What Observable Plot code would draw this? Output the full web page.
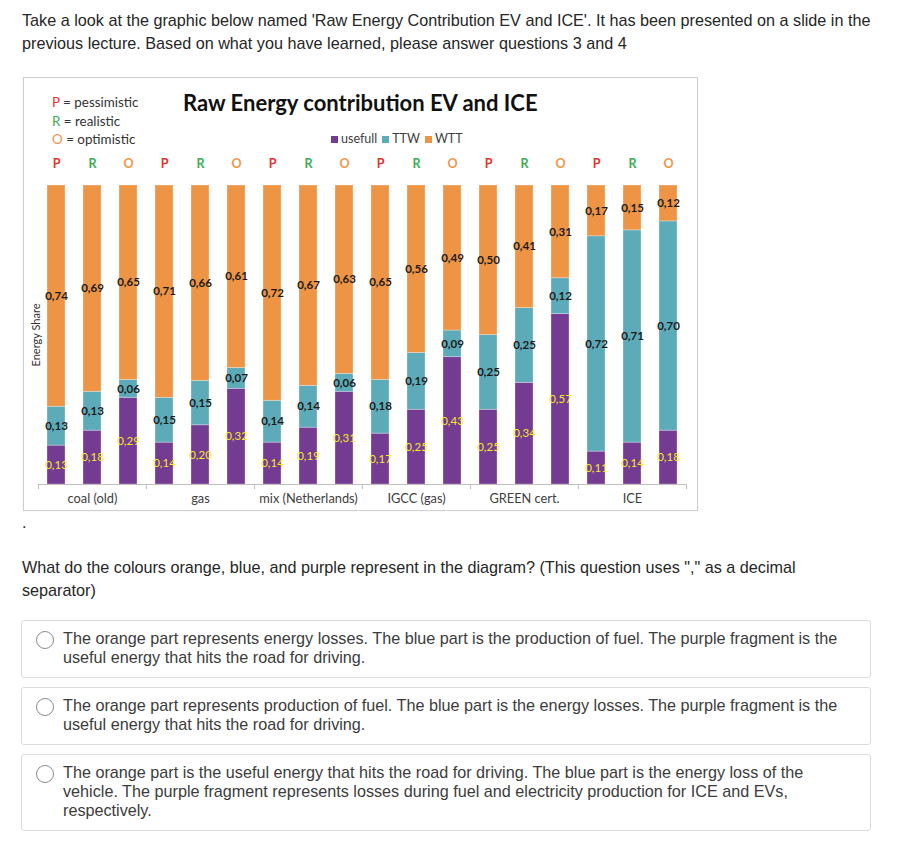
<!DOCTYPE html>
<html>
<head>
<meta charset="utf-8">
<script src="https://cdn.jsdelivr.net/npm/d3@7"></script>
<script src="https://cdn.jsdelivr.net/npm/@observablehq/plot@0.6"></script>
<style>
  html, body { margin: 0; padding: 0; background: #fff; }
  body { width: 914px; height: 851px; position: relative; font-family: "Liberation Sans", Arial, sans-serif; color: #262626; overflow: hidden; }
  .abs { position: absolute; }
  .para { font-size: 16.2px; line-height: 22.5px; white-space: nowrap; }
  .box { position: absolute; left: 23px; top: 77px; width: 673px; height: 432px; border: 1px solid #cfcfcf; box-shadow: 0 0 1px #e0e0e0; }
  .chartfont { font-family: "Lato", "Open Sans", sans-serif; }
  .opt { position: absolute; left: 21px; width: 848px; border: 1px solid #dcdcdc; border-radius: 3px; }
  .radio { position: absolute; left: 14px; top: 10px; width: 16px; height: 16px; border: 1.3px solid #8a8a8a; border-radius: 50%; background: #fff; }
  .opttext { position: absolute; left: 41px; top: 8px; font-size: 16.2px; line-height: 19px; color: #3c3c3c; white-space: nowrap; }
  #chart { position: absolute; left: 23px; top: 145px; }
  #chart svg { overflow: visible; }
</style>
</head>
<body>
<div class="abs para" style="left:22px; top:9px;">Take a look at the graphic below named 'Raw Energy Contribution EV and ICE'. It has been presented on a slide in the<br>previous lecture. Based on what you have learned, please answer questions 3 and 4</div>

<div class="box"></div>

<div class="abs chartfont" style="left:52px; top:93px; font-size:13.4px; line-height:18.5px; color:#333;">
  <div><span style="color:#ee2e2e">P</span> = pessimistic</div>
  <div><span style="color:#3dab57">R</span> = realistic</div>
  <div><span style="color:#f0954a">O</span> = optimistic</div>
</div>
<div class="abs chartfont" style="left:183px; top:89px; font-size:22px; font-weight:700; color:#111; white-space:nowrap;">Raw Energy contribution EV and ICE</div>
<div class="abs chartfont" id="legend" style="left:331px; top:131px; font-size:12.5px; color:#404040; white-space:nowrap;"></div>
<div class="abs chartfont" style="left:35px; top:335px; font-size:11px; color:#333; transform: translate(-50%,-50%) rotate(-90deg); white-space:nowrap;">Energy Share</div>

<div id="chart"></div>

<div class="abs para" style="left:22px; top:511px;">.</div>
<div class="abs para" style="left:22px; top:556px;">What do the colours orange, blue, and purple represent in the diagram? (This question uses "," as a decimal<br>separator)</div>

<div class="opt" style="top:620px; height:56px;"><div class="radio"></div><div class="opttext">The orange part represents energy losses. The blue part is the production of fuel. The purple fragment is the<br>useful energy that hits the road for driving.</div></div>
<div class="opt" style="top:687px; height:56px;"><div class="radio"></div><div class="opttext">The orange part represents production of fuel. The blue part is the energy losses. The purple fragment is the<br>useful energy that hits the road for driving.</div></div>
<div class="opt" style="top:754px; height:75px;"><div class="radio"></div><div class="opttext">The orange part is the useful energy that hits the road for driving. The blue part is the energy loss of the<br>vehicle. The purple fragment represents losses during fuel and electricity production for ICE and EVs,<br>respectively.</div></div>

<script>
// ---- data ----
const groups = ["coal (old)", "gas", "mix (Netherlands)", "IGCC (gas)", "GREEN cert.", "ICE"];
const scenarios = ["P", "R", "O"];
const seriesNames = ["usefull", "TTW", "WTT"];
const usefull = [0.13, 0.18, 0.29, 0.14, 0.20, 0.32, 0.14, 0.19, 0.31, 0.17, 0.25, 0.43, 0.25, 0.34, 0.57, 0.11, 0.14, 0.18];
const ttw     = [0.13, 0.13, 0.06, 0.15, 0.15, 0.07, 0.14, 0.14, 0.06, 0.18, 0.19, 0.09, 0.25, 0.25, 0.12, 0.72, 0.71, 0.70];
const wtt     = [0.74, 0.69, 0.65, 0.71, 0.66, 0.61, 0.72, 0.67, 0.63, 0.65, 0.56, 0.49, 0.50, 0.41, 0.31, 0.17, 0.15, 0.12];

const seriesColors = ["#743b93", "#5dabb9", "#ee9445"];
const scenarioColors = {P: "#ee2e2e", R: "#3dab57", O: "#f0954a"};

// legend
const leg = document.getElementById("legend");
leg.innerHTML = seriesNames.map((s, i) =>
  `<span style="display:inline-block;width:7px;height:7px;background:${seriesColors[i]};margin-right:3px;vertical-align:0px"></span>${s}`
).join('<span style="display:inline-block;width:5px"></span>');

// table built from arrays
const bars = [];
groups.forEach((g, gi) => scenarios.forEach((sc, si) => bars.push({group: g, sc, i: gi * 3 + si})));
const rows = [];
const valuesBySeries = [usefull, ttw, wtt];
bars.forEach(b => seriesNames.forEach((s, k) => rows.push({group: b.group, sc: b.sc, series: s, value: valuesBySeries[k][b.i]})));

const fmt = v => v.toFixed(2).replace(".", ",");

const stackOpts = {fx: "group", x: "sc", y: "value", z: "series", offset: "normalize"};

const plot = Plot.plot({
  width: 674,
  height: 365,
  marginTop: 40,
  marginBottom: 26,
  marginLeft: 15,
  marginRight: 11,
  style: {fontFamily: "Lato, 'Open Sans', sans-serif", fontSize: "11px", background: "transparent", overflow: "visible"},
  fx: {domain: groups, padding: 0, axis: null, label: null},
  x: {domain: scenarios, paddingInner: 0.49, paddingOuter: 0.245, axis: null, label: null},
  y: {domain: [0, 1], axis: null, label: null},
  color: {domain: seriesNames, range: seriesColors},
  marks: [
    Plot.barY(rows, Plot.stackY({...stackOpts, fill: "series", stroke: "#ffffff", strokeOpacity: 0.35, strokeWidth: 0.8})),
    Plot.text(rows, Plot.stackY({...stackOpts, text: d => d.series === "usefull" ? "" : fmt(d.value), fill: "#1a1a1a", fontWeight: "bold", fontSize: 11.5})),
    Plot.text(rows, Plot.stackY({...stackOpts, text: d => d.series === "usefull" ? fmt(d.value) : "", fill: "#f3ec1c", fontSize: 11.5})),
    Plot.ruleY([0], {stroke: "#bfbfbf"}),
    Plot.ruleX(groups, {fx: d => d, x: () => "P", y1: 0, y2: 0, insetBottom: -5, dx: -18, stroke: "#bfbfbf"}),
    Plot.ruleX(groups.slice(-1), {fx: d => d, x: () => "O", y1: 0, y2: 0, insetBottom: -5, dx: 18, stroke: "#bfbfbf"}),
    ...scenarios.map(sc => Plot.text(bars.filter(b => b.sc === sc), {fx: "group", x: "sc", text: "sc", frameAnchor: "top", dy: -26, fill: scenarioColors[sc], fontWeight: "bold", fontSize: 12.5})),
    Plot.text(groups, {fx: d => d, x: () => "R", text: d => d, frameAnchor: "bottom", dy: 18, fill: "#404040", fontSize: 12.8})
  ]
});
document.getElementById("chart").appendChild(plot);
</script>
</body>
</html>
